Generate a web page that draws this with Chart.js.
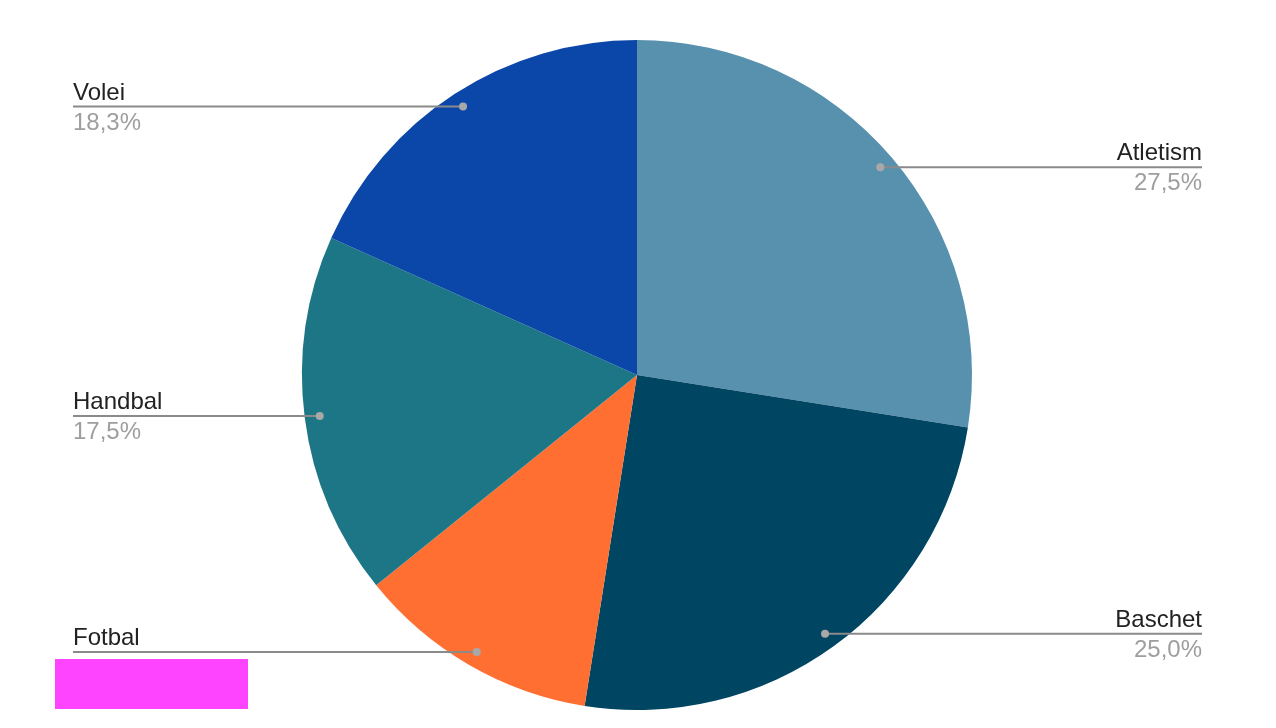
<!DOCTYPE html>
<html>
<head>
<meta charset="utf-8">
<script src="https://cdn.jsdelivr.net/npm/chart.js@4.4.1/dist/chart.umd.min.js"></script>
<style>
  html, body { margin: 0; padding: 0; background: #fff; }
  #wrap { width: 1276px; height: 728px; }
</style>
</head>
<body>
<div id="wrap"><canvas id="pie" width="1276" height="728"></canvas></div>
<script>
// data
const categories = ['Atletism', 'Baschet', 'Fotbal', 'Handbal', 'Volei'];
const values = [27.5, 25.0, 11.7, 17.5, 18.3];
const percentLabels = ['27,5%', '25,0%', '11,7%', '17,5%', '18,3%'];
const sliceColors = ['#5891ad', '#004561', '#ff6f31', '#1c7685', '#0b47a8'];
const hiddenValue = 2; // Fotbal's value is covered by a pink box in the picture

// leader lines + labels, google-sheets style
const calloutPlugin = {
  id: 'callouts',
  afterDatasetsDraw(chart) {
    const ctx = chart.ctx;
    const arcs = chart.getDatasetMeta(0).data;
    arcs.forEach((arc, i) => {
      const mid = (arc.startAngle + arc.endAngle) / 2;
      const r = arc.outerRadius * 0.955;
      const dx = arc.x + Math.cos(mid) * r;
      const dy = arc.y + Math.sin(mid) * r;
      const right = Math.cos(mid) > 0;
      const endX = right ? 1202 : 73;

      ctx.save();
      ctx.strokeStyle = '#8a8a8a';
      ctx.lineWidth = 2;
      ctx.beginPath();
      ctx.moveTo(dx, dy);
      ctx.lineTo(endX, dy);
      ctx.stroke();
      ctx.fillStyle = '#a8a8a8';
      ctx.beginPath();
      ctx.arc(dx, dy, 4, 0, Math.PI * 2);
      ctx.fill();

      ctx.textAlign = right ? 'right' : 'left';
      ctx.textBaseline = 'alphabetic';
      ctx.font = '24px "Liberation Sans", Arial, sans-serif';
      ctx.fillStyle = '#222222';
      ctx.fillText(categories[i], endX, dy - 7);
      if (i !== hiddenValue) {
        ctx.fillStyle = '#9e9e9e';
        ctx.fillText(percentLabels[i], endX, dy + 23);
      }
      ctx.restore();
    });
    // pink cover box over the Fotbal value
    ctx.save();
    ctx.fillStyle = '#ff44ff';
    ctx.fillRect(55, 659, 193, 50);
    ctx.restore();
  }
};

new Chart(document.getElementById('pie'), {
  type: 'pie',
  data: {
    labels: categories,
    datasets: [{
      data: values,
      backgroundColor: sliceColors,
      borderWidth: 0
    }]
  },
  options: {
    responsive: false,
    animation: false,
    layout: { padding: { left: 302, right: 304, top: 40, bottom: 18 } },
    plugins: {
      legend: { display: false },
      tooltip: { enabled: false }
    }
  },
  plugins: [calloutPlugin]
});
</script>
</body>
</html>
